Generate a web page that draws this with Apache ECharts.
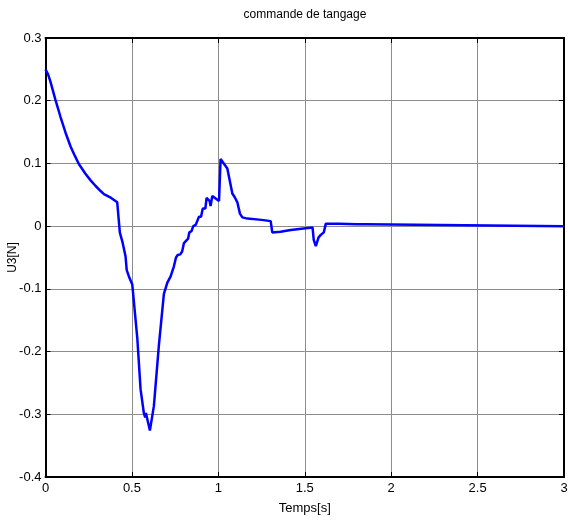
<!DOCTYPE html>
<html>
<head>
<meta charset="utf-8">
<script src="https://cdn.jsdelivr.net/npm/echarts@6/dist/echarts.min.js"></script>
<style>html,body{margin:0;padding:0;background:#fff}#c{width:568px;height:526px}</style>
</head>
<body>
<div id="c"></div>
<script>
var titleText = 'commande de tangage';
var xName = 'Temps[s]';
var yName = 'U3[N]';
var xTicks = [0, 0.5, 1, 1.5, 2, 2.5, 3];
var yTicks = [-0.4, -0.3, -0.2, -0.1, 0, 0.1, 0.2, 0.3];
var timeS = [0, 0.015, 0.029, 0.058, 0.087, 0.116, 0.145, 0.17, 0.193, 0.23, 0.261, 0.29, 0.319, 0.338, 0.38, 0.415, 0.420, 0.430, 0.445, 0.463, 0.470, 0.485, 0.502, 0.531, 0.550, 0.569, 0.577, 0.581, 0.588, 0.604, 0.627, 0.656, 0.685, 0.705, 0.724, 0.743, 0.755, 0.765, 0.780, 0.791, 0.801, 0.811, 0.825, 0.832, 0.845, 0.855, 0.869, 0.880, 0.888, 0.900, 0.910, 0.925, 0.932, 0.950, 0.955, 0.965, 1.004, 1.013, 1.052, 1.068, 1.081, 1.095, 1.110, 1.125, 1.139, 1.168, 1.25, 1.303, 1.312, 1.322, 1.36, 1.419, 1.48, 1.545, 1.552, 1.564, 1.580, 1.593, 1.610, 1.622, 1.70, 1.80, 1.853, 1.863, 3.0];
var u3 = [0.250, 0.242, 0.230, 0.201, 0.174, 0.149, 0.127, 0.112, 0.099, 0.084, 0.073, 0.064, 0.056, 0.051, 0.045, 0.038, 0.036, -0.010, -0.025, -0.048, -0.070, -0.082, -0.093, -0.178, -0.260, -0.298, -0.305, -0.298, -0.300, -0.326, -0.287, -0.190, -0.108, -0.090, -0.080, -0.064, -0.050, -0.046, -0.045, -0.040, -0.027, -0.024, -0.020, -0.010, -0.008, 0.000, 0.002, 0.002, 0.015, 0.015, 0.028, 0.028, 0.045, 0.040, 0.032, 0.048, 0.040, 0.107, 0.092, 0.070, 0.052, 0.046, 0.038, 0.020, 0.014, 0.012, 0.010, 0.008, -0.010, -0.012, -0.009, -0.006, -0.004, -0.002, -0.022, -0.032, -0.018, -0.014, -0.010, 0.004, 0.004, 0.003, 0.003, 0.000, 0.000];

var FONT = '"Liberation Sans Narrow", "Liberation Sans", Arial, sans-serif';
var pts = timeS.map(function (t, i) { return [t, u3[i]]; });
function fmt(v) { return String(parseFloat(Number(v).toFixed(2))); }

var chart = echarts.init(document.getElementById('c'));
var tick = { show: true, inside: true, length: 5, lineStyle: { color: '#000', width: 1 } };
var line = { show: true, onZero: false, lineStyle: { color: '#000', width: 2 } };
chart.setOption({
  animation: false,
  backgroundColor: '#fff',
  grid: { left: 45.5, right: 4, top: 38, bottom: 49, containLabel: false, outerBoundsMode: 'none' },
  graphic: [{
    type: 'text', x: 305, y: 9,
    style: { text: titleText, font: '12px ' + FONT, fill: '#000', textAlign: 'center', textVerticalAlign: 'top' }
  }],
  xAxis: [{
    type: 'value', min: xTicks[0], max: xTicks[xTicks.length - 1], interval: 0.5,
    name: xName, nameLocation: 'middle', nameGap: 25, nameMoveOverlap: false,
    nameTextStyle: { color: '#000', fontSize: 13, fontFamily: FONT },
    axisLine: line, axisTick: tick,
    axisLabel: { color: '#000', fontSize: 13, fontFamily: FONT, margin: 5, formatter: fmt },
    splitLine: { show: true, lineStyle: { color: '#8c8c8c', width: 1 } }
  }, {
    type: 'value', position: 'top', min: 0, max: 3, interval: 0.5,
    axisLine: line, axisTick: tick, axisLabel: { show: false }, splitLine: { show: false }
  }],
  yAxis: [{
    type: 'value', min: yTicks[0], max: yTicks[yTicks.length - 1], interval: 0.1,
    name: yName, nameLocation: 'middle', nameGap: 27, nameRotate: 90, nameMoveOverlap: false,
    nameTextStyle: { color: '#000', fontSize: 12, fontFamily: FONT },
    axisLine: line, axisTick: tick,
    axisLabel: { color: '#000', fontSize: 13, fontFamily: FONT, margin: 4, formatter: fmt },
    splitLine: { show: true, lineStyle: { color: '#8c8c8c', width: 1 } }
  }, {
    type: 'value', position: 'right', min: -0.4, max: 0.3, interval: 0.1,
    axisLine: line, axisTick: tick, axisLabel: { show: false }, splitLine: { show: false }
  }],
  series: [{
    type: 'line', data: pts, xAxisIndex: 0, yAxisIndex: 0,
    showSymbol: false, smooth: false,
    lineStyle: { color: '#0000ff', width: 2.5 }
  }]
});
</script>
</body>
</html>
